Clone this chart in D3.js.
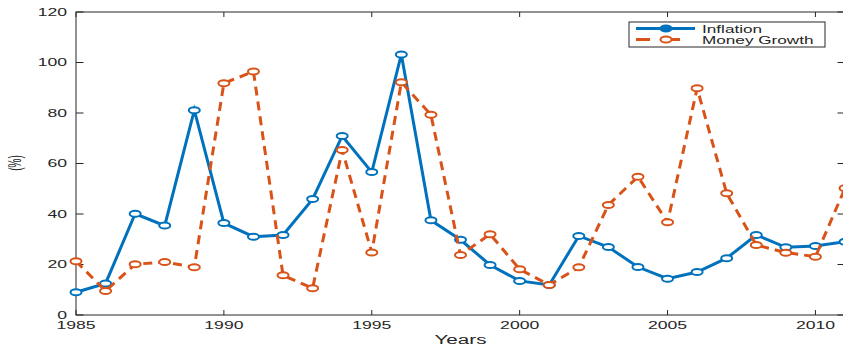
<!DOCTYPE html>
<html>
<head>
<meta charset="utf-8">
<script src="https://cdn.jsdelivr.net/npm/d3@7"></script>
<style>
  body { margin: 0; background: #fff; }
  text { font-family: "Liberation Sans", Arial, sans-serif; fill: #262626; }
</style>
</head>
<body>
<div id="chart"></div>
<script>
// data
var years = [1985, 1986, 1987, 1988, 1989, 1990, 1991, 1992, 1993, 1994, 1995, 1996, 1997, 1998,
             1999, 2000, 2001, 2002, 2003, 2004, 2005, 2006, 2007, 2008, 2009, 2010, 2011];
var inflation = [9.0, 12.5, 40.1, 35.4, 81.1, 36.4, 31.0, 31.7, 45.9, 70.9, 56.6, 103.2, 37.5, 29.8,
                 19.8, 13.5, 11.9, 31.3, 26.9, 19.0, 14.4, 17.0, 22.5, 31.7, 26.8, 27.3, 29.0];
var moneyGrowth = [21.3, 9.5, 20.1, 21.0, 18.9, 91.8, 96.4, 15.7, 10.6, 65.3, 24.8, 92.2, 79.3, 23.8,
                   32.0, 18.1, 11.9, 18.9, 43.6, 54.8, 36.7, 89.8, 48.2, 27.7, 24.7, 23.1, 50.2];
var xTicks = [1985, 1990, 1995, 2000, 2005, 2010];
var yTicks = [0, 20, 40, 60, 80, 100, 120];
var seriesNames = ["Inflation", "Money Growth"];

var W = 843, H = 348;
var margin = {top: 12, right: -2, bottom: 33, left: 76};
var width = W - margin.left - margin.right,
    height = H - margin.top - margin.bottom;
var sx = 1.6; // the reference is stretched sideways

var blue = "#0072BD", orange = "#D95319", axisCol = "#262626";

var x = d3.scaleLinear().domain([1985, 2011]).range([0, width]);
var y = d3.scaleLinear().domain([0, 120]).range([height, 0]);

var svg = d3.select("#chart").append("svg")
    .attr("width", W).attr("height", H);
var g = svg.append("g")
    .attr("transform", "translate(" + margin.left + "," + margin.top + ")");

// box
g.append("rect")
  .attr("x", 0).attr("y", 0).attr("width", width).attr("height", height)
  .attr("fill", "none").attr("stroke", axisCol).attr("stroke-width", 1);

// x ticks (bottom and top, inward)
xTicks.forEach(function(t) {
  g.append("line").attr("x1", x(t)).attr("x2", x(t)).attr("y1", height).attr("y2", height - 5)
    .attr("stroke", axisCol);
  g.append("line").attr("x1", x(t)).attr("x2", x(t)).attr("y1", 0).attr("y2", 5)
    .attr("stroke", axisCol);
  g.append("text")
    .attr("transform", "translate(" + x(t) + "," + (height + 14) + ") scale(" + sx + ",1)")
    .attr("text-anchor", "middle").attr("font-size", 11).text(t);
});

// y ticks (left and right, inward)
yTicks.forEach(function(t) {
  g.append("line").attr("x1", 0).attr("x2", 7.5).attr("y1", y(t)).attr("y2", y(t))
    .attr("stroke", axisCol);
  g.append("line").attr("x1", width).attr("x2", width - 7.5).attr("y1", y(t)).attr("y2", y(t))
    .attr("stroke", axisCol);
  g.append("text")
    .attr("transform", "translate(-9," + (y(t) + 3.5) + ") scale(" + sx + ",1)")
    .attr("text-anchor", "end").attr("font-size", 11).text(t);
});

// axis labels
svg.append("text")
  .attr("transform", "translate(" + (margin.left + x(1998)) + ",344) scale(1.72,1)")
  .attr("text-anchor", "middle").attr("font-size", 12).text("Years");
svg.append("text")
  .attr("transform", "translate(21,163) scale(1.9,1) rotate(-90)")
  .attr("text-anchor", "middle").attr("font-size", 10).text("(%)");

var line = d3.line()
  .x(function(d, i) { return x(years[i]); })
  .y(function(d) { return y(d); });

function drawSeries(vals, col, dash) {
  g.append("path")
    .attr("d", line(vals))
    .attr("fill", "none").attr("stroke", col).attr("stroke-width", 3)
    .attr("stroke-dasharray", dash);
  g.selectAll(null).data(vals).enter().append("ellipse")
    .attr("cx", function(d, i) { return x(years[i]); })
    .attr("cy", function(d) { return y(d); })
    .attr("rx", 5.5).attr("ry", 3)
    .attr("fill", "#fff").attr("stroke", col).attr("stroke-width", 2);
}
drawSeries(inflation, blue, null);
drawSeries(moneyGrowth, orange, "9,6");

// legend
var lg = svg.append("g").attr("transform", "translate(629,22)");
lg.append("rect").attr("width", 196).attr("height", 25)
  .attr("fill", "#fff").attr("stroke", axisCol).attr("stroke-width", 1);
[[blue, null, 6.5, true], [orange, "14,16", 17.5, false]].forEach(function(s, i) {
  lg.append("line").attr("x1", 7).attr("x2", 66).attr("y1", s[2]).attr("y2", s[2])
    .attr("stroke", s[0]).attr("stroke-width", 3).attr("stroke-dasharray", s[1]);
  lg.append("ellipse").attr("cx", 37).attr("cy", s[2]).attr("rx", 5.5).attr("ry", 3)
    .attr("fill", s[3] ? s[0] : "#fff").attr("stroke", s[0]).attr("stroke-width", 2);
  lg.append("text")
    .attr("transform", "translate(73," + (s[2] + 4) + ") scale(1.56,1)")
    .attr("font-size", 11).text(seriesNames[i]);
});
</script>
</body>
</html>
